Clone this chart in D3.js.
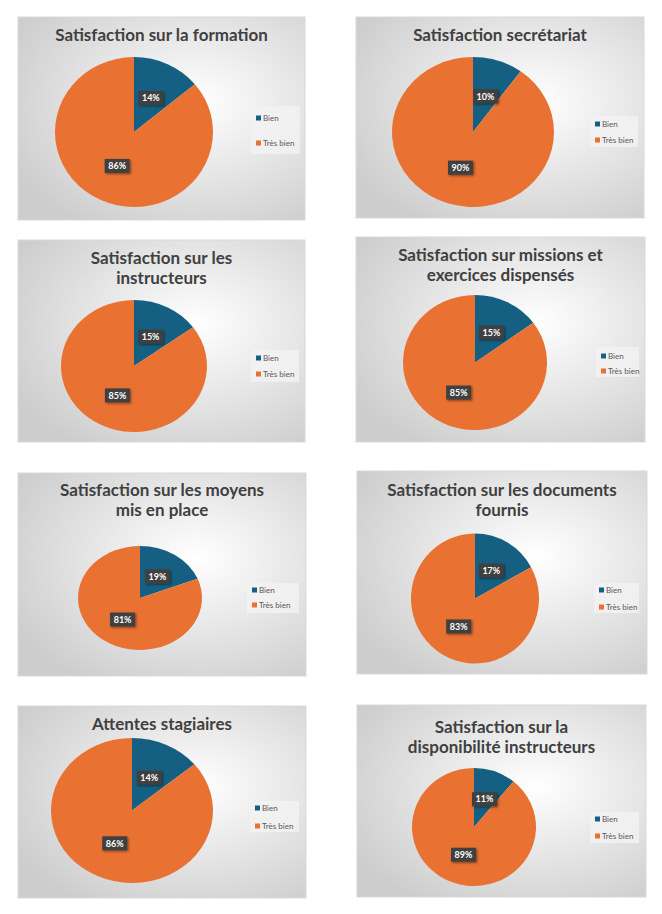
<!DOCTYPE html>
<html><head><meta charset="utf-8">
<script src="https://cdn.jsdelivr.net/npm/d3@7"></script>
<style>html,body{margin:0;padding:0;background:#fff;}svg{display:block;}</style>
</head><body>
<script>
// ---- data ----
const titles = [
  ["Satisfaction sur la formation"],
  ["Satisfaction secrétariat"],
  ["Satisfaction sur les", "instructeurs"],
  ["Satisfaction sur missions et", "exercices dispensés"],
  ["Satisfaction sur les moyens", "mis en place"],
  ["Satisfaction sur les documents", "fournis"],
  ["Attentes stagiaires"],
  ["Satisfaction sur la", "disponibilité instructeurs"]
];
const categories = ["Bien", "Très bien"];
const bienValues     = [14, 10, 15, 15, 19, 17, 14, 11];
const tresBienValues = [86, 90, 85, 85, 81, 83, 86, 89];

// ---- layout (positions only) ----
const layout = [
  {x:18, y:17, w:287, h:203, ty:[35], cx:134, cy:132, rx:79, ry:75, lx:251, ly:106, lw:49, lh:48, li:[118,143]},
  {x:356,y:17, w:288, h:201, ty:[35], cx:473, cy:132, rx:81, ry:75, lx:590, ly:116, lw:48, lh:31, li:[124,140]},
  {x:18, y:240,w:287, h:202, ty:[258,278], cx:134, cy:366, rx:73, ry:66, lx:251, ly:350, lw:48, lh:32, li:[358,374]},
  {x:356,y:237,w:289, h:205, ty:[255,275], cx:475, cy:362.5, rx:72, ry:67.5, lx:596, ly:347, lw:43, lh:30, li:[356,371]},
  {x:18, y:473,w:288, h:203, ty:[490,510], cx:140, cy:598, rx:62, ry:52, lx:247, ly:583, lw:52, lh:30, li:[590,605]},
  {x:357,y:471,w:290, h:203, ty:[490,510], cx:475, cy:598.5, rx:64, ry:65, lx:594, ly:583, lw:45, lh:30, li:[590,607]},
  {x:18, y:706,w:288, h:192, ty:[724], cx:132, cy:810.5, rx:81, ry:72.5, lx:250, ly:801, lw:49, lh:31, li:[808,826]},
  {x:357,y:705,w:289, h:192, ty:[727,747], cx:474, cy:827, rx:62, ry:59, lx:590, ly:812, lw:49, lh:31, li:[819,836]}
];

const W = 662, H = 914;
const color = d3.scaleOrdinal().domain(categories).range(["#156082", "#E97132"]);
const svg = d3.select("body").append("svg").attr("width", W).attr("height", H)
  .style("font-family", "Lato, 'Open Sans', sans-serif");

const defs = svg.append("defs");
const grad = defs.append("radialGradient").attr("id", "bg")
  .attr("cx", "62%").attr("cy", "42%").attr("r", "72%");
grad.append("stop").attr("offset", "0%").attr("stop-color", "#ffffff");
grad.append("stop").attr("offset", "100%").attr("stop-color", "#cdcdcd");
const shadow = defs.append("filter").attr("id", "sh").attr("x", "-30%").attr("y", "-30%").attr("width", "170%").attr("height", "170%");
shadow.append("feDropShadow").attr("dx", 1.2).attr("dy", 1.2).attr("stdDeviation", 0.9)
  .attr("flood-color", "#000").attr("flood-opacity", 0.45);

const pie = d3.pie().sort(null).value(d => d.value);

titles.forEach((t, i) => {
  const L = layout[i];
  const g = svg.append("g");
  g.append("rect").attr("x", L.x).attr("y", L.y).attr("width", L.w).attr("height", L.h)
    .attr("fill", "url(#bg)").attr("stroke", "#d9d9d9").attr("stroke-width", 1);

  // title
  t.forEach((line, k) => {
    g.append("text").attr("x", L.x + L.w / 2).attr("y", L.ty[k]).attr("dy", "0.36em")
      .attr("text-anchor", "middle").attr("font-size", 17).attr("font-weight", 700)
      .attr("fill", "#404040").text(line);
  });

  const data = [
    {cat: categories[0], value: bienValues[i]},
    {cat: categories[1], value: tresBienValues[i]}
  ];
  const arcs = pie(data);
  const arc = d3.arc().innerRadius(0).outerRadius(L.ry);
  const sx = L.rx / L.ry;
  const pg = g.append("g").attr("transform", `translate(${L.cx},${L.cy}) scale(${sx},1)`);
  pg.selectAll("path").data(arcs).join("path")
    .attr("d", arc).attr("fill", d => color(d.data.cat));

  // labels
  const lr = L.ry * 0.5;
  const labArc = d3.arc().innerRadius(lr).outerRadius(lr);
  arcs.forEach(a => {
    const c = labArc.centroid(a);
    const px = L.cx + c[0] * sx, py = L.cy + c[1];
    const lg = g.append("g").attr("transform", `translate(${px},${py})`);
    lg.append("rect").attr("x", -12.5).attr("y", -7).attr("width", 25).attr("height", 14)
      .attr("fill", "#404040").attr("filter", "url(#sh)");
    lg.append("text").attr("text-anchor", "middle").attr("dy", "0.36em")
      .attr("font-size", 9).attr("font-weight", 700).attr("fill", "#fff")
      .text(a.data.value + "%");
  });

  // legend
  g.append("rect").attr("x", L.lx).attr("y", L.ly).attr("width", L.lw).attr("height", L.lh)
    .attr("fill", "#f2f2f2").attr("fill-opacity", 0.8);
  categories.forEach((c, k) => {
    g.append("rect").attr("x", L.lx + 5).attr("y", L.li[k] - 2.5).attr("width", 5).attr("height", 5)
      .attr("fill", color(c));
    g.append("text").attr("x", L.lx + 12).attr("y", L.li[k]).attr("dy", "0.35em")
      .attr("font-size", 8).attr("fill", "#595959").text(c);
  });
});
</script>
</body></html>
